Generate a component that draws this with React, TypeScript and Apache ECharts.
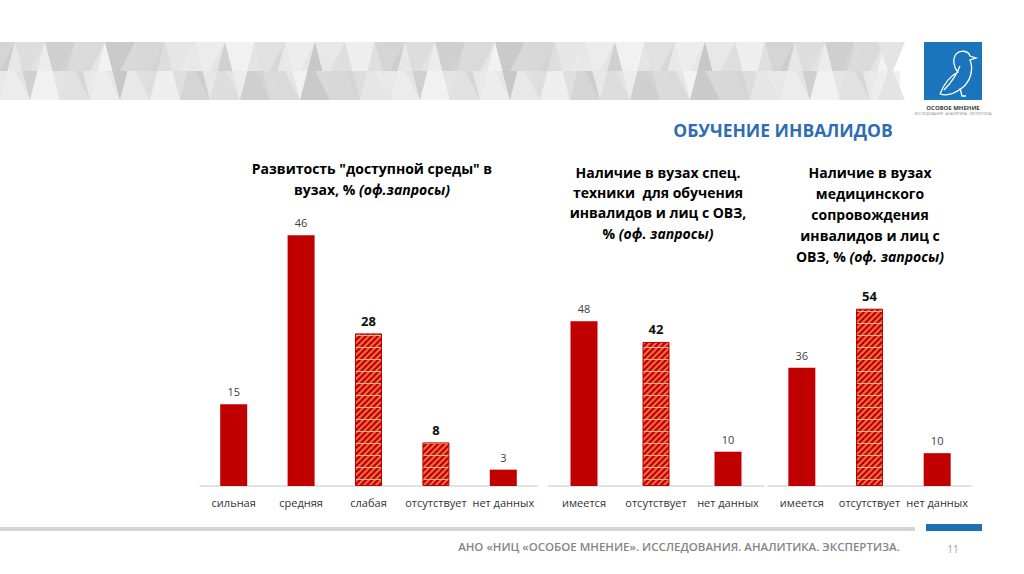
import React, { useEffect, useRef } from "react";
import * as echarts from "echarts";

// ---- data ----
const categories1 = ["сильная", "средняя", "слабая", "отсутствует", "нет данных"];
const values1 = [15, 46, 28, 8, 3];
const hatched1 = [false, false, true, true, false];

const categories2 = ["имеется", "отсутствует", "нет данных"];
const values2 = [48, 42, 10];
const hatched2 = [false, true, false];

const categories3 = ["имеется", "отсутствует", "нет данных"];
const values3 = [36, 54, 10];
const hatched3 = [false, true, false];

const mainTitle = "ОБУЧЕНИЕ ИНВАЛИДОВ";
const footerText = "АНО «НИЦ «ОСОБОЕ МНЕНИЕ». ИССЛЕДОВАНИЯ. АНАЛИТИКА. ЭКСПЕРТИЗА.";
const pageNumber = "11";

const FONT = '"Open Sans", "Noto Sans", sans-serif';
const RED = "#c00000";

const BIRD_PATH =
  "M26 8 C30 4 38 4 40 10 L46 12 L40 14 C44 24 40 36 32 42 C24 48 16 50 10 48 M26 8 C22 14 24 22 28 26 C20 30 14 38 10 48 M30 20 C26 30 20 38 14 44 M30 42 L32 50 L36 50";

function makePattern(): HTMLCanvasElement {
  const c = document.createElement("canvas");
  c.width = 6;
  c.height = 12;
  const ctx = c.getContext("2d")!;
  ctx.fillStyle = "#f06a45";
  ctx.fillRect(0, 0, 6, 12);
  ctx.strokeStyle = RED;
  ctx.lineWidth = 2.2;
  for (let k = -2; k < 6; k++) {
    ctx.beginPath();
    ctx.moveTo(-2, k * 6 + 8);
    ctx.lineTo(8, k * 6 - 2);
    ctx.stroke();
  }
  ctx.strokeStyle = "#f8b090";
  ctx.lineWidth = 1;
  ctx.beginPath();
  ctx.moveTo(0, 11.5);
  ctx.lineTo(6, 11.5);
  ctx.stroke();
  return c;
}

function seriesData(values: number[], hatched: boolean[], pattern: HTMLCanvasElement) {
  return values.map((v, i) =>
    hatched[i]
      ? {
          value: v,
          itemStyle: { color: { image: pattern, repeat: "repeat" }, borderColor: RED, borderWidth: 1 },
          label: { fontWeight: "bold", fontSize: 13, color: "#111", distance: 6 },
        }
      : { value: v, itemStyle: { color: RED } }
  );
}

function bannerTriangles() {
  const shades = ["#e6e6e6", "#d2d2d2", "#ededed", "#dcdcdc", "#f3f3f3", "#cbcbcb", "#e1e1e1", "#d8d8d8", "#efefef", "#c6c6c6", "#e9e9e9", "#d5d5d5", "#f0f0f0"];
  const els: any[] = [
    { type: "rect", shape: { x: 0, y: 42, width: 885, height: 58 }, style: { fill: "#e2e2e2" }, silent: true },
  ];
  const top = 42, h = 58, w = 30;
  let idx = 0;
  for (let x = -w; x < 880; x += w / 2) {
    const up = idx % 2 === 0;
    const pts = up
      ? [[x, top + h], [x + w / 2, top], [x + w, top + h]]
      : [[x, top], [x + w / 2, top + h], [x + w, top]];
    els.push({ type: "polygon", shape: { points: pts }, style: { fill: shades[idx % shades.length], opacity: 0.85 }, silent: true });
    const mid = top + h / 2;
    els.push({
      type: "polygon",
      shape: { points: [[x + w / 4, mid], [x + w / 2, up ? top : top + h], [x + (3 * w) / 4, mid]] },
      style: { fill: shades[(idx * 5 + 3) % shades.length], opacity: 0.7 },
      silent: true,
    });
    els.push({
      type: "polygon",
      shape: { points: [[x + w / 2, mid], [x + w, up ? top + h : top], [x + w, mid]] },
      style: { fill: shades[(idx * 7 + 2) % shades.length], opacity: 0.5 },
      silent: true,
    });
    idx++;
  }
  return els;
}

export default function App() {
  const ref = useRef<HTMLDivElement>(null);

  useEffect(() => {
    document.body.style.margin = "0";
    if (!ref.current) return;
    echarts.graphic.registerShape("bird", echarts.graphic.extendPath(BIRD_PATH, {}) as any);
    const chart = echarts.init(ref.current, undefined, { renderer: "svg" });
    const pattern = makePattern();

    const grids = [
      { left: 200, width: 337, top: 213.5, bottom: 88 },
      { left: 548, width: 216, top: 314.5, bottom: 88 },
      { left: 768, width: 203, top: 289, bottom: 88 },
    ];
    const maxes = [50, 50, 60];
    const cats = [categories1, categories2, categories3];
    const vals = [values1, values2, values3];
    const hats = [hatched1, hatched2, hatched3];

    const titleRich = {
      b: { fontFamily: FONT, fontWeight: "bold", fontSize: 14, color: "#1a1a1a" },
      i: { fontFamily: FONT, fontWeight: "bold", fontStyle: "italic", fontSize: 14, color: "#1a1a1a" },
    };

    const option: any = {
      animation: false,
      backgroundColor: "#ffffff",
      grid: grids.map((g) => ({ ...g, containLabel: false })),
      xAxis: cats.map((c, i) => ({
        type: "category",
        gridIndex: i,
        data: c,
        axisTick: { show: false },
        axisLine: { lineStyle: { color: "#d9d9d9", width: 1.5 } },
        axisLabel: { color: "#333333", fontSize: 11, fontFamily: FONT, margin: 11, interval: 0 },
      })),
      yAxis: maxes.map((m, i) => ({
        type: "value",
        gridIndex: i,
        min: 0,
        max: m,
        show: false,
        splitLine: { show: false },
      })),
      series: vals.map((v, i) => ({
        type: "bar",
        xAxisIndex: i,
        yAxisIndex: i,
        barWidth: 27,
        data: seriesData(v, hats[i], pattern),
        label: {
          show: true,
          position: "top",
          distance: 7,
          color: "#404040",
          fontSize: 11,
          fontFamily: FONT,
        },
      })),
      graphic: [
        ...bannerTriangles(),
        {
          type: "polygon",
          shape: { points: [[878, 42], [905, 42], [893, 71], [905, 100], [878, 100], [888, 71]] },
          style: { fill: "#e4e4e4" },
          silent: true,
        },
        { type: "rect", shape: { x: 905, y: 40, width: 119, height: 62 }, style: { fill: "#ffffff" }, silent: true },
        // logo
        { type: "rect", shape: { x: 924, y: 42, width: 58, height: 58 }, style: { fill: "#1b75bc" } },
        { type: "bird", x: 930, y: 46, scaleX: 1, scaleY: 1, style: { stroke: "#ffffff", fill: "none", lineWidth: 1.3 } },
        {
          type: "text",
          style: { text: "ОСОБОЕ МНЕНИЕ", x: 953, y: 108, textAlign: "center", textVerticalAlign: "middle", fontFamily: FONT, fontWeight: "bold", fontSize: 6, fill: "#3a3a3a" },
        },
        {
          type: "text",
          style: { text: "ИССЛЕДОВАНИЯ · АНАЛИТИКА · ЭКСПЕРТИЗА", x: 953, y: 113.5, textAlign: "center", textVerticalAlign: "middle", fontFamily: FONT, fontSize: 3.5, fill: "#8a8a8a" },
        },
        {
          type: "text",
          style: { text: mainTitle, x: 783, y: 130, textAlign: "center", textVerticalAlign: "middle", fontFamily: FONT, fontWeight: "bold", fontSize: 17.5, fill: "#2f6db3" },
        },
        {
          type: "text",
          style: {
            text: '{b|Развитость "доступной среды" в}\n{b|вузах, % }{i|(оф.запросы)}',
            rich: titleRich,
            x: 372,
            y: 158,
            textAlign: "center",
            textVerticalAlign: "top",
            lineHeight: 21,
          },
        },
        {
          type: "text",
          style: {
            text: "{b|Наличие в вузах спец.}\n{b|техники  для обучения}\n{b|инвалидов и лиц с ОВЗ,}\n{b|% }{i|(оф. запросы)}",
            rich: titleRich,
            x: 658,
            y: 162,
            textAlign: "center",
            textVerticalAlign: "top",
            lineHeight: 20.3,
          },
        },
        {
          type: "text",
          style: {
            text: "{b|Наличие в вузах}\n{b|медицинского}\n{b|сопровождения}\n{b|инвалидов и лиц с}\n{b|ОВЗ, % }{i|(оф. запросы)}",
            rich: titleRich,
            x: 870,
            y: 162,
            textAlign: "center",
            textVerticalAlign: "top",
            lineHeight: 21,
          },
        },
        { type: "rect", shape: { x: 0, y: 527, width: 915, height: 4 }, style: { fill: "#d4d4d4" } },
        { type: "rect", shape: { x: 926, y: 524, width: 56, height: 7 }, style: { fill: "#1f6fb5" } },
        {
          type: "text",
          style: { text: footerText, x: 679, y: 546, textAlign: "center", textVerticalAlign: "middle", fontFamily: FONT, fontWeight: 600, fontSize: 11.5, fill: "#858585" },
        },
        {
          type: "text",
          style: { text: pageNumber, x: 953, y: 549, textAlign: "center", textVerticalAlign: "middle", fontFamily: FONT, fontSize: 10, fill: "#a0a0a0" },
        },
      ],
    };

    chart.setOption(option);
    return () => chart.dispose();
  }, []);

  return <div ref={ref} style={{ position: "absolute", left: 0, top: 0, width: 1024, height: 574 }} />;
}
